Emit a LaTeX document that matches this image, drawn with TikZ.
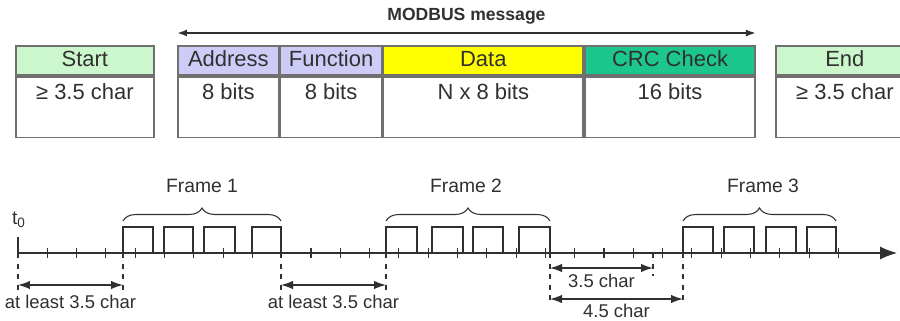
\documentclass[tikz,border=0pt]{standalone}
\usepackage{fontspec}
\setmainfont{Liberation Sans}
\usetikzlibrary{arrows.meta, positioning, decorations.pathreplacing}

\definecolor{startgreen}{RGB}{204,246,204}
\definecolor{addrblue}{RGB}{204,204,246}
\definecolor{datayellow}{RGB}{255,255,0}
\definecolor{crcgreen}{RGB}{28,198,140}
\definecolor{boxline}{RGB}{112,112,112}
\definecolor{inkgray}{RGB}{48,48,48}

\begin{document}
\begin{tikzpicture}[x=0.02cm, y=-0.02cm, >={Latex[length=0.24cm,width=0.17cm]},
  hdr/.style={draw=boxline, line width=1pt, inner sep=0pt, text height=0.42cm, text depth=0.16cm,
    font=\fontsize{12.5}{14}\selectfont, text=inkgray},
  cell/.style={draw=boxline, line width=1pt, inner sep=0pt, text height=0.46cm, text depth=0.76cm,
    font=\fontsize{12.5}{14}\selectfont, text=inkgray},
  wire/.style={draw=inkgray, line width=0.6pt},
  guide/.style={draw=inkgray, line width=0.8pt, dashed},
  dim/.style={draw=inkgray, line width=0.8pt, <->},
  lab/.style={font=\fontsize{10.5}{12}\selectfont, text=inkgray},
  framelab/.style={font=\fontsize{11}{13}\selectfont, text=inkgray}]

  \clip (0,0) rectangle (900,321);

  % message fields
  \node[hdr, fill=startgreen, minimum width=2.76cm, anchor=north west] (starthdr) at (15,45) {Start};
  \node[cell, minimum width=2.76cm, below=0pt of starthdr] (startcell) {≥ 3.5 char};

  \node[hdr, fill=addrblue, minimum width=2.02cm, anchor=north west] (addr) at (177,45) {Address};
  \node[hdr, fill=addrblue, minimum width=2.02cm, right=0pt of addr] (func) {Function};
  \node[hdr, fill=datayellow, minimum width=4cm, right=0pt of func] (data) {Data};
  \node[hdr, fill=crcgreen, minimum width=3.4cm, right=0pt of data] (crc) {CRC Check};
  \node[cell, minimum width=2.02cm, below=0pt of addr] (addrcell) {8 bits};
  \node[cell, minimum width=2.02cm, below=0pt of func] (funccell) {8 bits};
  \node[cell, minimum width=4cm, below=0pt of data] (datacell) {N x 8 bits};
  \node[cell, minimum width=3.4cm, below=0pt of crc] (crccell) {16 bits};

  \node[hdr, fill=startgreen, minimum width=2.76cm, anchor=north west] (endhdr) at (775,45) {End};
  \node[cell, minimum width=2.76cm, below=0pt of endhdr] (endcell) {≥ 3.5 char};

  \draw[wire, line width=1pt, <->, >={Latex[length=0.2cm,width=0.14cm]}]
    ([yshift=0.24cm]addr.north west) -- node[above=1pt, font=\fontsize{10}{12}\selectfont\bfseries, text=inkgray] (msglab) {MODBUS message}
    ([yshift=0.24cm]crc.north east);

  % time line
  \coordinate (t0) at (18,253);
  \coordinate (tend) at (897,253);
  \coordinate (f1s) at (123,253);
  \coordinate (f1e) at (281,253);
  \coordinate (f2s) at (386,253);
  \coordinate (f2e) at (550,253);
  \coordinate (m35) at (653,253);
  \coordinate (f3s) at (683,253);
  \coordinate (row1) at (0,285);
  \coordinate (row2) at (0,268);
  \coordinate (row3) at (0,299);

  \foreach \k in {1,...,28}
    \draw[wire] ({18+29.3*\k},248) -- ++(0,10);
  \draw[wire, -{Latex[length=0.34cm,width=0.26cm]}] (t0) -- (tend);
  \draw[wire] (t0) -- ++(0,-16);
  \node[framelab] (t0lab) at (19,220) {t\textsubscript{0}};

  % pulses
  \foreach \a/\b in {123/153,164/193,204/235,252/281,386/417,432/463,473/503,519/550,683/713,724/754,766/796,807/836}
    \draw[wire] (\a,253) |- (\b,227) -- (\b,253);

  \draw[wire, decorate, decoration={brace, amplitude=0.26cm}] (123,221) -- (281,221);
  \draw[wire, decorate, decoration={brace, amplitude=0.26cm}] (386,221) -- (550,221);
  \draw[wire, decorate, decoration={brace, amplitude=0.26cm}] (683,221) -- (836,221);
  \node[framelab] (fr1) at (202,186) {Frame 1};
  \node[framelab] (fr2) at (466,186) {Frame 2};
  \node[framelab] (fr3) at (763,186) {Frame 3};

  % gaps
  \draw[guide] (t0) -- (t0 |- 0,292);
  \draw[guide] (f1s) -- (f1s |- 0,292);
  \draw[guide] (f1e) -- (f1e |- 0,292);
  \draw[guide] (f2s) -- (f2s |- 0,292);
  \draw[guide] (f2e) -- (f2e |- 0,304);
  \draw[guide] (m35) -- (m35 |- 0,276);
  \draw[guide] (f3s) -- (f3s |- 0,304);

  \draw[dim] (t0 |- row1) -- node[lab, below=2pt] (gap1) {at least 3.5 char} (f1s |- row1);
  \draw[dim] (f1e |- row1) -- node[lab, below=2pt] (gap2) {at least 3.5 char} (f2s |- row1);
  \draw[dim] (f2e |- row2) -- node[lab, below=0pt] (gap3) {3.5 char} (m35 |- row2);
  \draw[dim] (f2e |- row3) -- node[lab, below=-1pt] (gap4) {4.5 char} (f3s |- row3);

\end{tikzpicture}
\end{document}
